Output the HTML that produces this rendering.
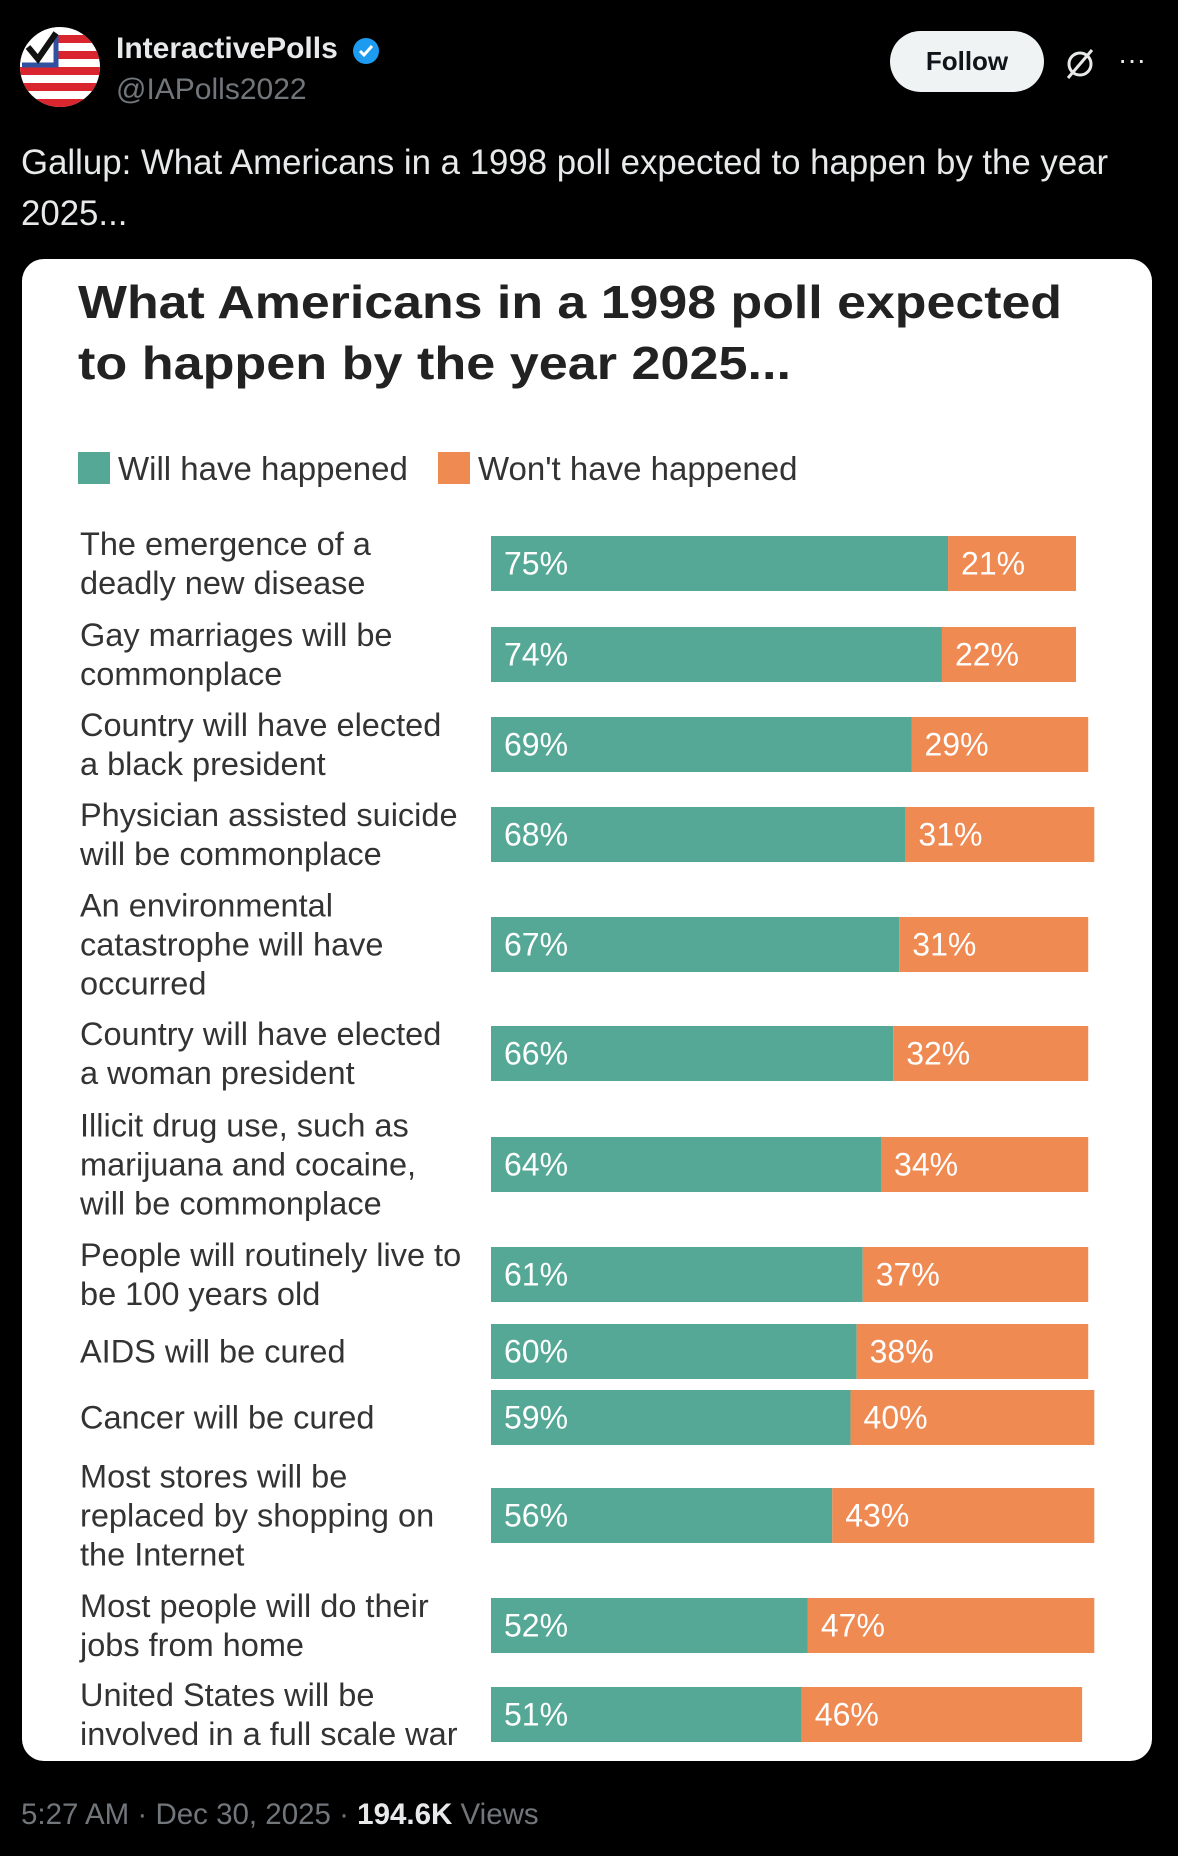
<!DOCTYPE html>
<html><head><meta charset="utf-8"><style>
body{margin:0;background:#000;width:1178px;height:1856px;position:relative;overflow:hidden;font-family:"Liberation Sans",Arial,sans-serif}
.abs{position:absolute}
</style></head><body>
<svg class="abs" style="left:20px;top:27px" width="80" height="80">
<defs><clipPath id="cc"><circle cx="40" cy="40" r="40"/></clipPath></defs>
<g clip-path="url(#cc)"><rect width="80" height="80" fill="#fff"/>
<rect x="0" y="8" width="80" height="8" fill="#d9262e"/><rect x="0" y="24" width="80" height="8" fill="#d9262e"/><rect x="0" y="40" width="80" height="8" fill="#d9262e"/><rect x="0" y="56" width="80" height="8" fill="#d9262e"/><rect x="0" y="72" width="80" height="8" fill="#d9262e"/>
<rect x="0" y="0" width="38" height="40" fill="#fff"/><path d="M2 38 H36 V8" stroke="#3050a0" stroke-width="5" fill="none"/>
<path d="M8 20 L18 32 L36 6" stroke="#111" stroke-width="6" fill="none"/></g></svg>
<div class="abs" style="left:116px;top:32px;color:#e7e9ea;font-weight:bold;font-size:30px">InteractivePolls</div>
<svg class="abs" style="left:351px;top:36px" width="30" height="30"><circle cx="15" cy="15" r="13" fill="#1d9bf0"/><path d="M9 15 L13 19 L21 10" stroke="#fff" stroke-width="3" fill="none"/></svg>
<div class="abs" style="left:116px;top:73px;color:#71767b;font-size:30px">@IAPolls2022</div>
<div class="abs" style="left:890px;top:31px;width:154px;height:61px;border-radius:31px;background:#eff3f4;color:#0f1419;font-weight:bold;font-size:26px;line-height:61px;text-align:center">Follow</div>
<svg class="abs" style="left:1062px;top:46px" width="36" height="36"><circle cx="18" cy="18" r="11" stroke="#e7e9ea" stroke-width="3" fill="none"/><path d="M6 32 L30 4" stroke="#e7e9ea" stroke-width="3"/></svg>
<div class="abs" style="left:1118px;top:44px;color:#e7e9ea;font-size:28px">···</div>
<div class="abs" style="left:21px;top:137px;width:1130px;color:#e7e9ea;font-size:34.8px;line-height:51px">Gallup: What Americans in a 1998 poll expected to happen by the year 2025...</div>
<div class="abs" style="left:22px;top:259px;width:1130px;height:1502px;background:#fff;border-radius:22px;overflow:hidden">
<svg id="chart" width="1130" height="1502" style="position:absolute;left:0;top:0"></svg>
</div>
<div class="abs" style="left:21px;top:1798px;color:#71767b;font-size:29.5px">5:27 AM · Dec 30, 2025 · <b style="color:#e7e9ea">194.6K</b> Views</div>
<script>
const categories=[["The emergence of a","deadly new disease"],["Gay marriages will be","commonplace"],["Country will have elected","a black president"],["Physician assisted suicide","will be commonplace"],["An environmental","catastrophe will have","occurred"],["Country will have elected","a woman president"],["Illicit drug use, such as","marijuana and cocaine,","will be commonplace"],["People will routinely live to","be 100 years old"],["AIDS will be cured"],["Cancer will be cured"],["Most stores will be","replaced by shopping on","the Internet"],["Most people will do their","jobs from home"],["United States will be","involved in a full scale war"]];
const willValues=[75,74,69,68,67,66,64,61,60,59,56,52,51];
const wontValues=[21,22,29,31,31,32,34,37,38,40,43,47,46];
const legendLabels=["Will have happened","Won't have happened"];
const rowTops=[536,627,717,807,917,1026,1137,1247,1324,1390,1488,1598,1687];
const OX=22,OY=259,X0=491,PPU=6.094,BH=55;
const xs=v=>X0+v*PPU-OX;
const svg=document.getElementById('chart');
const NS='http://www.w3.org/2000/svg';
function mk(t,a,txt){const e=document.createElementNS(NS,t);for(const k in a)e.setAttribute(k,a[k]);if(txt!==undefined)e.textContent=txt;svg.appendChild(e);return e;}
let e;
e=mk('text',{x:56,y:318-OY,'font-size':46,'font-weight':'bold',fill:'#222',textLength:984,lengthAdjust:'spacingAndGlyphs'},'What Americans in a 1998 poll expected');


e=mk('text',{x:56,y:379-OY,'font-size':46,'font-weight':'bold',fill:'#222',textLength:713,lengthAdjust:'spacingAndGlyphs'},'to happen by the year 2025...');


const cols=['#55a896','#ef8a52'];
const legX=[78,438];
legendLabels.forEach((l,i)=>{
 e=mk('rect',{x:legX[i]-OX,y:452-OY,width:32,height:32,fill:cols[i]});
 
 
 e=mk('text',{x:legX[i]-OX+40,y:480-OY,'font-size':33,fill:'#333'},l);
 
 
});
categories.forEach((lines,i)=>{
 const top=rowTops[i]-OY, cy=top+BH/2;
 const lh=39, start=cy-(lines.length-1)*lh/2;
 lines.forEach((ln,j)=>{
  e=mk('text',{x:80-OX,y:start+j*lh+11,'font-size':32.5,fill:'#333'},ln);
  
  
 });
 const w=willValues[i], n=wontValues[i];
 e=mk('rect',{x:xs(0),y:top,width:xs(w)-xs(0),height:BH,fill:cols[0]});
 
 
 e=mk('rect',{x:xs(w),y:top,width:xs(w+n)-xs(w),height:BH,fill:cols[1]});
 
 
 e=mk('text',{x:xs(0)+13,y:cy+11,'font-size':32,fill:'#fff'},w+'%');
 
 
 e=mk('text',{x:xs(w)+13,y:cy+11,'font-size':32,fill:'#fff'},n+'%');
 
 
});
</script>
</body></html>
